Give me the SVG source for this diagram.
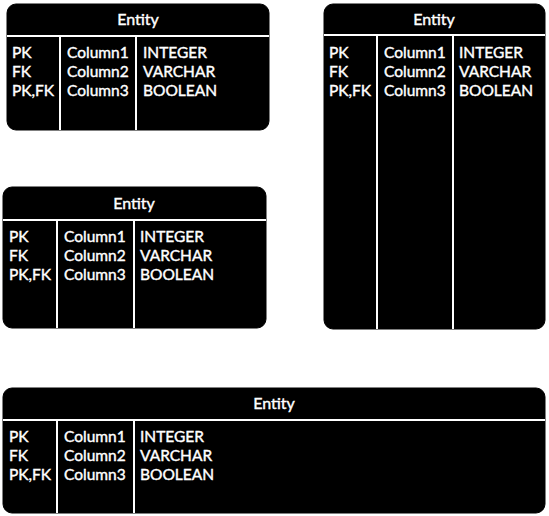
<svg xmlns="http://www.w3.org/2000/svg" width="549" height="516" viewBox="0 0 549 516">
<style>
.box{fill:#000;stroke:#000;stroke-width:1}
.sep{stroke:#fff;stroke-width:2;fill:none}
.t{font-family:Lato,"Liberation Sans",sans-serif;font-size:15.5px;fill:#fff;stroke:#fff;stroke-width:0.4}
.h{font-family:Lato,"Liberation Sans",sans-serif;font-size:16px;fill:#fff;stroke:#fff;stroke-width:0.4;text-anchor:middle}
</style>
<rect width="549" height="516" fill="#fff"/>
<g id="entity1">
<rect class="box" x="7" y="4" width="262" height="126" rx="9"/>
<line class="sep" x1="7" y1="36" x2="269" y2="36"/>
<line class="sep" x1="60" y1="36" x2="60" y2="130"/>
<line class="sep" x1="136" y1="36" x2="136" y2="130"/>
<text class="h" x="138" y="25">Entity</text>
<text class="t" x="12" y="58">PK</text><text class="t" x="12" y="77">FK</text><text class="t" x="12" y="96">PK,FK</text>
<text class="t" x="67" y="58">Column1</text><text class="t" x="67" y="77">Column2</text><text class="t" x="67" y="96">Column3</text>
<text class="t" x="143" y="58">INTEGER</text><text class="t" x="143" y="77">VARCHAR</text><text class="t" x="143" y="96">BOOLEAN</text>
</g>
<g id="entity2">
<rect class="box" x="324" y="4" width="221" height="325" rx="9"/>
<line class="sep" x1="324" y1="35" x2="545" y2="35"/>
<line class="sep" x1="377" y1="35" x2="377" y2="329"/>
<line class="sep" x1="453" y1="35" x2="453" y2="329"/>
<text class="h" x="434" y="25">Entity</text>
<text class="t" x="329" y="58">PK</text><text class="t" x="329" y="77">FK</text><text class="t" x="329" y="96">PK,FK</text>
<text class="t" x="384" y="58">Column1</text><text class="t" x="384" y="77">Column2</text><text class="t" x="384" y="96">Column3</text>
<text class="t" x="459" y="58">INTEGER</text><text class="t" x="459" y="77">VARCHAR</text><text class="t" x="459" y="96">BOOLEAN</text>
</g>
<g id="entity3">
<rect class="box" x="3" y="187" width="263" height="141" rx="9"/>
<line class="sep" x1="3" y1="220" x2="266" y2="220"/>
<line class="sep" x1="57" y1="220" x2="57" y2="328"/>
<line class="sep" x1="134" y1="220" x2="134" y2="328"/>
<text class="h" x="134" y="209">Entity</text>
<text class="t" x="9" y="242">PK</text><text class="t" x="9" y="261">FK</text><text class="t" x="9" y="280">PK,FK</text>
<text class="t" x="64" y="242">Column1</text><text class="t" x="64" y="261">Column2</text><text class="t" x="64" y="280">Column3</text>
<text class="t" x="140" y="242">INTEGER</text><text class="t" x="140" y="261">VARCHAR</text><text class="t" x="140" y="280">BOOLEAN</text>
</g>
<g id="entity4">
<rect class="box" x="3" y="388" width="542" height="125" rx="9"/>
<line class="sep" x1="3" y1="420" x2="545" y2="420"/>
<line class="sep" x1="57" y1="420" x2="57" y2="513"/>
<line class="sep" x1="134" y1="420" x2="134" y2="513"/>
<text class="h" x="274" y="409">Entity</text>
<text class="t" x="9" y="442">PK</text><text class="t" x="9" y="461">FK</text><text class="t" x="9" y="480">PK,FK</text>
<text class="t" x="64" y="442">Column1</text><text class="t" x="64" y="461">Column2</text><text class="t" x="64" y="480">Column3</text>
<text class="t" x="140" y="442">INTEGER</text><text class="t" x="140" y="461">VARCHAR</text><text class="t" x="140" y="480">BOOLEAN</text>
</g>
<g id="connectors"></g>
</svg>
